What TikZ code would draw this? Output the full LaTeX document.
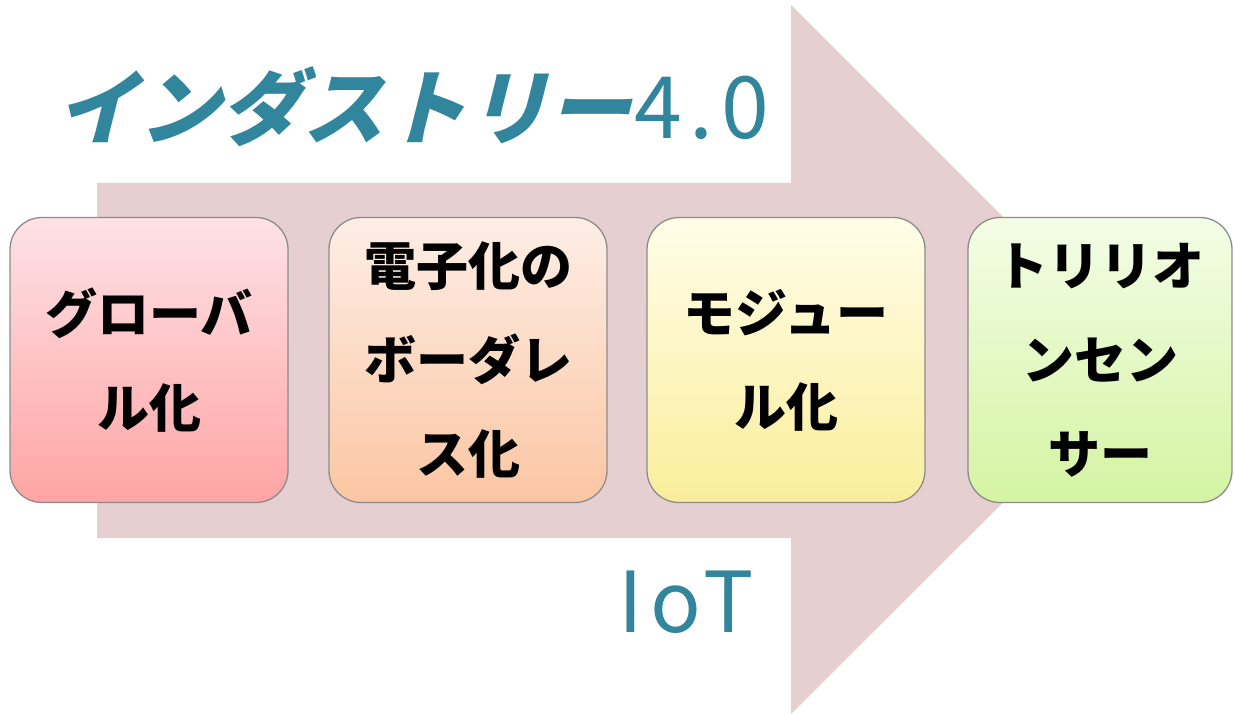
\documentclass[tikz,border=0pt]{standalone}
\usepackage{fontspec}
\newfontfamily\jp{Noto Sans CJK JP}
\newfontfamily\jpsl{Noto Sans CJK JP}[FakeSlant=0.25]
\definecolor{arrowfill}{HTML}{E6CFD0}
\definecolor{teal}{HTML}{31859C}
\definecolor{boxline}{HTML}{8C8C8C}
\definecolor{aTop}{HTML}{FDE2E6}\definecolor{aBot}{HTML}{FFA4A4}
\definecolor{bTop}{HTML}{FDEEE6}\definecolor{bBot}{HTML}{FBC6A2}
\definecolor{cTop}{HTML}{FFFDE8}\definecolor{cBot}{HTML}{FAEE9C}
\definecolor{dTop}{HTML}{F3FDE6}\definecolor{dBot}{HTML}{D4F4A2}
\tikzset{
  stagebox/.style={draw=boxline, line width=1.3pt, rounded corners=32pt,
    minimum height=285pt, inner sep=0pt, align=center,
    font=\jp\bfseries\fontsize{52}{94}\selectfont, text=black},
}
\begin{document}
\begin{tikzpicture}[x=1pt,y=-1pt]
\useasboundingbox (0,0) rectangle (1234,714);
% big arrow
\fill[arrowfill] (97,183) -- (791,183) -- (791,5) -- (1146,360) -- (791,714) -- (791,538) -- (97,538) -- cycle;
% title
\node[anchor=base west, inner sep=0pt, text=teal] (title) at (56,139)
  {\jpsl\bfseries\fontsize{82}{82}\selectfont インダストリー\hspace{4pt}{\jp\mdseries\fontsize{86}{86}\selectfont\addfontfeature{LetterSpace=9}4.0}};
\node[anchor=base west, inner sep=0pt, text=teal] (iot) at (618,632)
  {\jp\fontsize{84}{84}\selectfont\addfontfeature{LetterSpace=9}IoT};
% boxes
\node[stagebox, minimum width=278pt, top color=aTop, bottom color=aBot] (b1) at (149,360) {グローバ\\ル化};
\node[stagebox, minimum width=278pt, top color=bTop, bottom color=bBot] (b2) at (468,360) {電子化の\\ボーダレ\\ス化};
\node[stagebox, minimum width=278pt, top color=cTop, bottom color=cBot] (b3) at (786,360) {モジュー\\ル化};
\node[stagebox, minimum width=264pt, top color=dTop, bottom color=dBot] (b4) at (1100,360) {トリリオ\\ンセン\\サー};
\end{tikzpicture}
\end{document}
